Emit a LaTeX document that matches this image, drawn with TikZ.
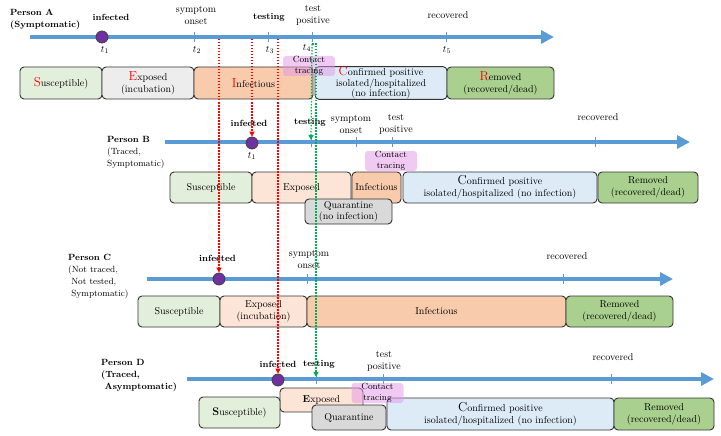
\documentclass[tikz,border=0pt]{standalone}
\usetikzlibrary{arrows.meta}

\definecolor{axisblue}{RGB}{91,155,213}
\definecolor{dotpurple}{RGB}{112,48,160}
\definecolor{suscgreen}{RGB}{226,239,218}
\definecolor{expgray}{RGB}{237,237,237}
\definecolor{exppeach}{RGB}{252,228,214}
\definecolor{infor}{RGB}{248,203,173}
\definecolor{confblue}{RGB}{221,235,247}
\definecolor{remgreen}{RGB}{169,208,142}
\definecolor{quargray}{RGB}{217,217,217}
\definecolor{tracepink}{RGB}{228,150,232}
\definecolor{testgreen}{RGB}{0,176,80}

\newcommand{\biglet}[2][red]{\textcolor{#1}{\fontsize{13}{10}\selectfont #2}}

\tikzset{
  axis/.style={draw=axisblue, line width=4pt, -{Triangle[length=13pt,width=13pt]}},
  tickln/.style={draw=axisblue, line width=0.9pt},
  dot/.style={circle, fill=dotpurple, draw=black!75, line width=0.8pt, minimum size=12pt, inner sep=0pt},
  stage/.style={draw=black!80, line width=0.9pt, rounded corners=4pt, align=center, inner sep=0pt},
  tracing/.style={fill=tracepink, fill opacity=0.5, text opacity=1, rounded corners=3pt,
    minimum width=52pt, minimum height=20pt, inner sep=0pt, align=center, font=\small},
  evt/.style={font=\small\bfseries, inner sep=0pt},
  lbl/.style={align=center, inner sep=0pt},
  who/.style={align=left, anchor=west, inner sep=0pt, font=\fontsize{9}{12}\selectfont},
  infect/.style={draw=red, line width=1.2pt, dash pattern=on 1.5pt off 1.5pt, -{Triangle[length=5pt,width=5pt]}},
  tested/.style={draw=testgreen, line width=1.2pt, dash pattern=on 1.5pt off 1.5pt, -{Triangle[length=5pt,width=5pt]}}
}

\begin{document}
\begin{tikzpicture}[x=1pt,y=-1pt]
    \useasboundingbox (0,0) rectangle (721,436);

    % Person A
    \node[who, font=\fontsize{9}{12}\selectfont\bfseries] (pA) at (10,19) {Person A\\(Symptomatic)};
    \draw[axis] (30,37) -- (554,37);
    \foreach \x in {194,268,312,446}
        \draw[tickln] (\x,32) -- (\x,42);
    \node[dot] (dotA) at (102,37) {};
    \node[evt] (infA) at (111,17) {infected};
    \node[lbl] (onsA) at (196,15) {symptom\\onset};
    \node[evt] (tstA) at (269,17) {testing};
    \node[lbl] (posA) at (313,15) {test\\positive};
    \node[lbl] (recA) at (448,15) {recovered};
    \node[lbl] (t1A) at (105,50) {$t_1$};
    \node[lbl] (t2A) at (197,50) {$t_2$};
    \node[lbl] (t3A) at (270,50) {$t_3$};
    \node[lbl] (t4A) at (307,48) {$t_4$};
    \node[lbl] (t5A) at (447,50) {$t_5$};

    \node[stage, fill=suscgreen, minimum width=82pt, minimum height=32pt] (aS) at (61,83) {\biglet{S}usceptible)};
    \node[stage, fill=expgray, minimum width=92pt, minimum height=32pt] (aE) at (148,83) {\biglet{E}xposed\\(incubation)};
    \node[stage, fill=infor, minimum width=119pt, minimum height=32pt] (aI) at (253.5,83) {\biglet{I}nfectious};
    \node[stage, fill=confblue, minimum width=132pt, minimum height=32pt, font=\fontsize{10}{10.5}\selectfont] (aC) at (381,83) {\biglet{C}onfirmed positive\\isolated/hospitalized\\(no infection)};
    \node[stage, fill=remgreen, minimum width=107pt, minimum height=32pt] (aR) at (500.5,83) {\biglet{R}emoved\\(recovered/dead)};
    \node[tracing] (ctA) at (309,66) {Contact\\tracing};

    % Person B
    \node[who] (pB) at (107,152.5) {\textbf{Person B}\\(Traced,\\Symptomatic)};
    \draw[axis] (165,142) -- (690,142);
    \foreach \x in {311,356,392,595}
        \draw[tickln] (\x,137) -- (\x,147);
    \node[dot] (dotB) at (252,143) {};
    \node[evt] (infB) at (249,123) {infected};
    \node[evt] (tstB) at (310,122) {testing};
    \node[lbl] (onsB) at (351,124) {symptom\\onset};
    \node[lbl] (posB) at (396,124) {test\\positive};
    \node[lbl] (recB) at (598,117) {recovered};
    \node[lbl] (t1B) at (252,156) {$t_1$};

    \node[stage, fill=suscgreen, minimum width=82pt, minimum height=31pt] (bS) at (211,187.5) {Susceptible};
    \node[stage, fill=exppeach, minimum width=99pt, minimum height=31pt] (bE) at (301.5,187.5) {Exposed};
    \node[stage, fill=infor, minimum width=49pt, minimum height=31pt] (bI) at (376.5,187.5) {Infectious};
    \node[stage, fill=confblue, minimum width=194pt, minimum height=31pt] (bC) at (500,187.5) {\biglet[black]{C}onfirmed positive\\isolated/hospitalized (no infection)};
    \node[stage, fill=remgreen, minimum width=100pt, minimum height=31pt] (bR) at (648,187.5) {Removed\\(recovered/dead)};
    \node[stage, fill=quargray, minimum width=87pt, minimum height=25pt, font=\fontsize{10}{11}\selectfont] (bQ) at (348.5,211.5) {Quarantine\\(no infection)};
    \node[tracing] (ctB) at (391,161) {Contact\\tracing};

    % Person C
    \node[who] (pC) at (68,276) {\textbf{Person C}\\(Not traced,\\\ Not tested,\\\ Symptomatic)};
    \draw[axis] (147,279) -- (673,279);
    \foreach \x in {307,563}
        \draw[tickln] (\x,274) -- (\x,284);
    \node[dot] (dotC) at (219,279) {};
    \node[evt] (infC) at (217.5,258) {infected};
    \node[lbl] (onsC) at (309,259) {symptom\\onset};
    \node[lbl] (recC) at (567,256) {recovered};

    \node[stage, fill=suscgreen, minimum width=82pt, minimum height=31pt] (cS) at (179,311.5) {Susceptible};
    \node[stage, fill=exppeach, minimum width=87pt, minimum height=31pt] (cE) at (263.5,311.5) {Exposed\\(incubation)};
    \node[stage, fill=infor, minimum width=259pt, minimum height=31pt] (cI) at (436.5,311.5) {Infectious};
    \node[stage, fill=remgreen, minimum width=107pt, minimum height=31pt] (cR) at (619.5,311.5) {Removed\\(recovered/dead)};

    % Person D
    \node[who, font=\fontsize{9}{12}\selectfont\bfseries] (pD) at (101,376) {Person D\\(Traced,\\\ Asymptomatic)};
    \draw[axis] (187,379) -- (714,379);
    \foreach \x in {316,383,611}
        \draw[tickln] (\x,374) -- (\x,384);
    \node[dot] (dotD) at (278,380) {};
    \node[evt] (infD) at (278,364) {infected};
    \node[evt] (tstD) at (319,364) {testing};
    \node[lbl] (posD) at (384,361) {test\\positive};
    \node[lbl] (recD) at (613,357) {recovered};

    \node[stage, fill=exppeach, minimum width=83pt, minimum height=24pt] (dE) at (321.5,400) {{\bfseries E}xposed};
    \node[stage, fill=suscgreen, minimum width=81pt, minimum height=31pt] (dS) at (239.5,412.5) {{\fontsize{11}{10}\selectfont\bfseries S}usceptible)};
    \node[stage, fill=quargray, minimum width=74pt, minimum height=25pt] (dQ) at (349,417.5) {Quarantine};
    \node[stage, fill=confblue, minimum width=227pt, minimum height=32pt] (dC) at (500.5,414) {\biglet[black]{C}onfirmed positive\\isolated/hospitalized (no infection)};
    \node[stage, fill=remgreen, minimum width=100pt, minimum height=32pt] (dR) at (664,414) {Removed\\(recovered/dead)};
    \node[tracing] (ctD) at (377.5,393) {Contact\\tracing};

    % contacts
    \coordinate (cA1) at (219,39);
    \coordinate (cA2) at (252,39);
    \coordinate (cA3) at (278,39);
    \coordinate (tA4) at (312,44);
    \coordinate (tB1) at (311,140);
    \coordinate (tD1) at (316,377);
    \draw[infect] (cA1) -- (dotC);
    \draw[infect] (cA2) -- (dotB);
    \draw[infect] (cA3) -- (dotD);
    \draw[tested] (tA4) -- (tB1);
    \draw[tested] (tA4) -| (tD1);
\end{tikzpicture}
\end{document}
